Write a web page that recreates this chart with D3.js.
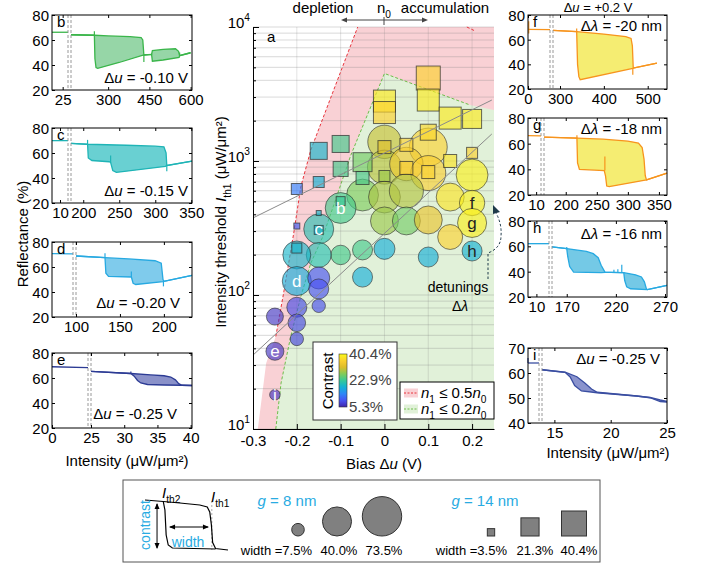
<!DOCTYPE html>
<html>
<head>
<meta charset="utf-8">
<script src="https://cdn.jsdelivr.net/npm/d3@7"></script>
<style>
  body { margin: 0; background: #fff; }
  svg { font-family: "Liberation Sans", Arial, sans-serif; }
</style>
</head>
<body>
<svg id="fig" width="715" height="572"></svg>
<script>
// ---------- panel a: bubbles (bias V, threshold uW/um2, width %, contrast %) ----------
var circleBias = [0, 0.1, 0, 0.05, 0.1, 0.2, -0.05, 0, 0.05, 0.15, 0.2, -0.1, 0, 0.05, 0.1, 0.2, 0.15, -0.15,
  0.2, 0.1, 0, -0.05, -0.1, -0.15, -0.2, -0.05, -0.2, -0.15, -0.15, -0.15, -0.2, -0.2, -0.2, -0.25, -0.25, -0.25];
var circleIth1 = [1390, 1270, 900, 950, 813, 786, 557, 538, 597, 538, 486, 446, 357, 357, 363, 345, 271, 311,
  213, 192, 221, 217, 199, 199, 199, 136, 127, 134, 111, 83, 81, 62, 47, 69, 38, 18];
var circleWidth = [52.7, 68, 54.6, 52.7, 58, 48, 48, 48, 55, 37, 30.5, 45, 37, 37, 37, 40, 29.5, 42.5,
  19, 19, 21, 19, 18, 29.5, 37, 19, 40, 23, 19, 8.5, 19, 14.6, 8.5, 13.7, 15.3, 5.3];
var circleContrast = [30.6, 36.2, 29.9, 34.4, 35.8, 39.3, 27.0, 29.2, 29.6, 38.0, 39.3, 23.6, 28.5, 26.4, 33.4, 39.3, 36.2, 21.1,
  18.6, 18.2, 18.2, 23.6, 23.6, 21.1, 19.3, 18.0, 18.0, 9.5, 9.5, 9.2, 8.8, 8.5, 8.1, 6.7, 6.7, 6.4];

var squareBias = [-0.15, -0.1, -0.2, -0.15, -0.1, -0.05, -0.05, 0, 0, 0.1, 0.1, 0.15, 0.2, 0.1, 0.05, 0, 0.15,
  0.2, 0.05, 0.1, 0, -0.1, -0.15, -0.2, -0.2, -0.15];
var squareIth1 = [1190, 1340, 618, 697, 872, 980, 747, 2800, 2300, 4160, 2850, 2090, 2060, 1640, 1320, 1270, 1000,
  1150, 887, 827, 773, 502, 409, 327, 224, 306];
var squareWidth = [18.7, 18.7, 7.8, 7.8, 14.5, 23.3, 10.9, 31.3, 31.3, 37.2, 31.3, 31.3, 23.3, 16.5, 10.9, 10.9, 10.9,
  7.8, 10.9, 10.9, 7.8, 5.2, 1.6, 2.3, 6.5, 5.2];
var squareContrast = [19.3, 23.6, 13.0, 18.6, 23.6, 26.4, 23.9, 38.6, 36.2, 36.2, 38.6, 38.6, 38.6, 36.9, 36.2, 32.0, 38.0,
  36.2, 35.5, 36.2, 28.5, 22.9, 19.3, 10.6, 19.3, 19.3];

var labelIndex = [11, 17, 26, 34, 10, 15, 18, 35];
var labelText = ["b", "c", "d", "e", "f", "g", "h", "i"];

// region boundaries [bias, threshold]
var pinkEdge = [[-0.289, 10], [-0.27, 31], [-0.248, 49]];
var redBoundary = [[-0.248, 49], [-0.23, 104], [-0.207, 290], [-0.191, 640], [-0.168, 1210], [-0.061, 10000]];
var redBoundary2 = [[0.188, 10000], [0.205, 9400]];
var greenBoundary = [[-0.248, 10], [-0.236, 22], [-0.214, 49], [-0.191, 97], [-0.168, 173], [-0.141, 271],
  [-0.118, 446], [-0.077, 1100], [0, 4500], [0.195, 2620]];
var greenEnd = [0.25, 2400];
var grayLine1 = [[-0.3, 376], [0.245, 2850]];
var grayLine2 = [[-0.3, 35.6], [0.245, 1590]];

var biasTicks = [-0.3, -0.2, -0.1, 0, 0.1, 0.2];
var contrastMin = 5.3, contrastMid = 22.9, contrastMax = 40.4;

// ---------- side panels: [intensity, reflectance %] ----------
var bPre = [[15, 66.2], [30, 66.2]];
var bUp = [[165, 64.2], [250, 63.8], [300, 63.3], [380, 62.7], [420, 62], [426, 60], [430, 48], [458, 48.5], [461, 51.5], [500, 52.5], [545, 53], [556, 51], [560, 47.5], [600, 49.8]];
var bDn = [[165, 64.2], [250, 63.8], [252, 45], [256, 38], [262, 37.3], [340, 42], [430, 48], [458, 48.5], [461, 43], [500, 44], [558, 46], [560, 47.5], [600, 49.8]];
var bSpikes = [[250, 63.8, 67], [430, 48, 42.5], [560, 47.5, 50]];

var cPre = [[6, 69.9], [14, 69.9]];
var cUp = [[183, 67.7], [206, 67], [260, 66.2], [300, 65.5], [312, 65], [315, 60], [316, 50], [351, 53.5]];
var cDn = [[183, 67.7], [206, 67], [207, 56], [212, 54], [236, 53], [238, 52.5], [241, 46], [246, 44.5], [314, 49.3], [316, 50], [351, 53.5]];
var cSpikes = [[206, 67, 70.5], [238, 52.5, 58], [316, 50, 45.5]];

var dPre = [[80, 70.7], [99.9, 70.5]];
var dUp = [[100, 68.8], [133, 67.5], [160, 66.5], [190, 65], [197, 63], [199, 50], [200, 48.5], [232, 53.3]];
var dDn = [[100, 68.8], [133, 67.5], [134, 55], [137, 52.5], [163, 52], [165, 47], [168, 46], [199, 48.3], [200, 48.5], [232, 53.3]];
var dSpikes = [[133, 67.5, 71], [163, 52, 56.5], [199.5, 48.5, 44.5]];

var ePre = [[0, 69], [24.9, 68.3]];
var eUp = [[25, 65.3], [31, 63.6], [34, 62.5], [36, 61.8], [37, 60.8], [37.7, 58.5], [38.2, 55.5], [38.7, 54.2], [40.2, 54]];
var eDn = [[25, 65.3], [31, 63.6], [31.5, 61.5], [32, 58], [32.5, 56], [33.5, 54.8], [36, 54.4], [38.7, 54.2], [40.2, 54]];
var eSpikes = [[31, 63.6, 65.2]];

var fPre = [[0, 68.4], [30, 68.2]];
var fUp = [[284, 67.6], [338, 66.5], [400, 64.5], [450, 62.5], [462, 61], [465, 55], [467, 37], [521, 41]];
var fDn = [[284, 67.6], [338, 66.5], [340, 40], [343, 30], [346, 27.5], [466, 36.8], [467, 37], [521, 41]];
var fSpikes = [[1, 65, 75], [338, 66.5, 69], [466, 37, 31.5]];

var gPre = [[5, 66.2], [13, 66]];
var gUp = [[165, 65.1], [218, 64.3], [260, 63.5], [300, 62], [317, 60.4], [323, 57], [326, 48], [328, 35], [330, 31.7], [363, 37]];
var gDn = [[165, 65.1], [218, 64.3], [219, 45], [222, 40], [262, 39], [264, 35], [266, 27], [270, 26.5], [330, 31.7], [363, 37]];
var gSpikes = [[218, 64.3, 66.5], [263, 39, 50]];

var hPre = [[8, 62.1], [13, 62.1]];
var hUp = [[155, 59.5], [170, 58.2], [190, 56], [197, 54.2], [202, 51], [205, 45], [209, 39.5], [215, 39.5], [226, 39.2], [228, 39.2], [240, 37.5], [246, 35.8], [249, 32], [251, 26.5], [252, 25.8], [272, 29.2]];
var hDn = [[155, 59.5], [170, 58.2], [171, 52], [173, 44], [177, 39.7], [205, 39.3], [209, 39.5], [215, 39.5], [226, 39.2], [228, 39.2], [229, 33], [231, 28], [235, 26.5], [252, 25.8], [272, 29.2]];
var hSpikes = [[170, 58.2, 59.5], [218, 39.5, 41.5], [222, 39.4, 42], [226, 39.2, 45.5]];

var iPre = [[12.9, 64], [13.8, 64]];
var iUp = [[13.9, 61.3], [15.95, 60.3], [17, 58.5], [17.7, 56], [18.3, 53.6], [18.8, 52.3], [22.3, 50.8], [23.5, 50.2], [24.4, 49.2], [25, 48.6]];
var iDn = [[13.9, 61.3], [15.95, 60.3], [16.4, 58.4], [16.8, 55], [17.4, 52.8], [18.8, 52.1], [22.3, 50.8], [23.5, 50.1], [24.4, 48.6], [25, 48.4]];
var iSpikes = [[12.9, 64, 66]];

// legend schematic (arbitrary units)
var schemUp = [[0, 1.0], [2.2, 0.97], [4.2, 0.94], [6.6, 0.9], [7.5, 0.86], [7.8, 0.76], [8.0, 0.5], [8.15, 0.15], [8.5, 0.03], [10, 0.0]];
var schemDn = [[2.2, 0.97], [2.4, 0.8], [2.55, 0.3], [2.8, 0.1], [3.3, 0.04], [8.5, 0.02]];
var legendCircleWidths = [7.5, 40.0, 73.5];
var legendSquareWidths = [3.5, 21.3, 40.4];

// ---------- helpers ----------
var svg = d3.select("#fig");
var blueText = "#29abe2";

function richText(t, parts, fs) {
  var cur = 0;
  parts.forEach(function (p) {
    var s = p[1] || "";
    var shift = s.indexOf("sub") >= 0 ? fs * 0.3 : (s.indexOf("sup") >= 0 ? -fs * 0.42 : 0);
    var ts = t.append("tspan").text(p[0]).attr("dy", shift - cur);
    cur = shift;
    if (s.charAt(0) === "i") ts.attr("font-style", "italic");
    if (shift !== 0) ts.attr("font-size", fs * 0.68);
  });
  return t;
}

// parula-like colormap
var parulaStops = ["#3e26a8", "#4852f4", "#2e87f7", "#12b1d6", "#37c897", "#81cc59", "#dcbd29", "#fccf30", "#f9fb15"];
var parula = d3.scaleLinear().domain(d3.range(parulaStops.length).map(function (i) { return i / (parulaStops.length - 1); }))
  .range(parulaStops).interpolate(d3.interpolateRgb).clamp(true);
function contrastColor(c) { return parula((c - contrastMin) / (contrastMax - contrastMin)); }

// ---------- panel a ----------
var mainX = d3.scaleLinear().domain([-0.3, 0.25]).range([253, 494]);
var mainY = d3.scaleLog().domain([10, 10000]).range([429, 27]);
var pathLine = d3.line().x(function (d) { return mainX(d[0]); }).y(function (d) { return mainY(d[1]); });
var rScale = d3.scaleSqrt().domain([0, 73.5]).range([0, 19.7]);
var sScale = d3.scaleSqrt().domain([0, 40.4]).range([0, 25]);

var a = svg.append("g");

// shaded regions
var pinkPoly = pinkEdge.concat(redBoundary.slice(1), [[0.25, 10000], [0.25, 10]]);
a.append("path").attr("d", pathLine(pinkPoly) + "Z").attr("fill", "#f9d1d5");
var greenPoly = greenBoundary.concat([greenEnd, [0.25, 10]]);
a.append("path").attr("d", pathLine(greenPoly) + "Z").attr("fill", "#e1f1d9");

// grid
a.append("g").selectAll("line").data(mainY.ticks()).join("line")
  .attr("x1", mainX(-0.3)).attr("x2", mainX(0.25))
  .attr("y1", function (d) { return mainY(d); }).attr("y2", function (d) { return mainY(d); })
  .attr("stroke", "#808080").attr("stroke-opacity", 0.3).attr("stroke-width", 1);
a.append("g").selectAll("line").data(biasTicks.slice(1)).join("line")
  .attr("x1", function (d) { return mainX(d); }).attr("x2", function (d) { return mainX(d); })
  .attr("y1", mainY(10)).attr("y2", mainY(10000))
  .attr("stroke", "#808080").attr("stroke-opacity", 0.22);

// boundary lines
a.append("path").attr("d", pathLine(redBoundary)).attr("fill", "none").attr("stroke", "#e8353d")
  .attr("stroke-width", 1).attr("stroke-dasharray", "3,2");
a.append("path").attr("d", pathLine(redBoundary2)).attr("fill", "none").attr("stroke", "#e8353d")
  .attr("stroke-width", 1).attr("stroke-dasharray", "3,2");
a.append("path").attr("d", pathLine(greenBoundary)).attr("fill", "none").attr("stroke", "#6dbd4a")
  .attr("stroke-width", 1).attr("stroke-dasharray", "3,2");

// circles (g = 8 nm)
var circleData = circleBias.map(function (b, i) {
  return { b: b, I: circleIth1[i], w: circleWidth[i], c: circleContrast[i] };
});
a.append("g").selectAll("circle").data(circleData).join("circle")
  .attr("cx", function (d) { return mainX(d.b); })
  .attr("cy", function (d) { return mainY(d.I); })
  .attr("r", function (d) { return rScale(d.w); })
  .attr("fill", function (d) { return contrastColor(d.c); })
  .attr("fill-opacity", 0.64)
  .attr("stroke", "#2b2b2b").attr("stroke-opacity", 0.65).attr("stroke-width", 0.9);

// squares (g = 14 nm)
var squareData = squareBias.map(function (b, i) {
  return { b: b, I: squareIth1[i], w: squareWidth[i], c: squareContrast[i] };
});
a.append("g").selectAll("rect").data(squareData).join("rect")
  .attr("x", function (d) { return mainX(d.b) - sScale(d.w) / 2; })
  .attr("y", function (d) { return mainY(d.I) - sScale(d.w) / 2; })
  .attr("width", function (d) { return sScale(d.w); })
  .attr("height", function (d) { return sScale(d.w); })
  .attr("fill", function (d) { return contrastColor(d.c); })
  .attr("fill-opacity", 0.66)
  .attr("stroke", "#2b2b2b").attr("stroke-opacity", 0.7).attr("stroke-width", 1);

// gray guide lines
[grayLine1, grayLine2].forEach(function (l) {
  a.append("path").attr("d", pathLine(l)).attr("stroke", "#8a8a8a").attr("stroke-width", 1).attr("fill", "none");
});

// bubble letters
labelIndex.forEach(function (idx, k) {
  var d = circleData[idx];
  var dark = labelText[k] === "f" || labelText[k] === "g" || labelText[k] === "h";
  a.append("text").attr("x", mainX(d.b)).attr("y", mainY(d.I) + 6)
    .attr("text-anchor", "middle").attr("font-size", 17)
    .attr("fill", dark ? "#222" : "#fff").text(labelText[k]);
});

// axes
var yMinor = a.append("g").attr("transform", "translate(253,0)")
  .call(d3.axisLeft(mainY).tickValues(mainY.ticks()).tickSize(-3).tickSizeOuter(0).tickFormat(""));
yMinor.select(".domain").remove();
var yMajor = a.append("g").attr("transform", "translate(253,0)")
  .call(d3.axisLeft(mainY).tickValues([10, 100, 1000, 10000]).tickSize(-6).tickSizeOuter(0).tickPadding(3));
yMajor.selectAll(".tick text").each(function (d) {
  var t = d3.select(this).text(null).attr("font-size", 15).attr("fill", "#000").attr("dy", "0.4em");
  richText(t, [["10"], [String(Math.round(Math.log10(d))), "sup"]], 15);
});
yMajor.select(".domain").attr("stroke", "#000");

var xAx = a.append("g").attr("transform", "translate(0,429)")
  .call(d3.axisBottom(mainX).tickValues(biasTicks).tickSize(-5).tickSizeOuter(0).tickPadding(6)
    .tickFormat(function (d) { return d === 0 ? "0" : d.toFixed(1); }));
xAx.selectAll(".tick text").attr("font-size", 15).attr("fill", "#000");
xAx.select(".domain").attr("stroke", "#000");
a.selectAll(".tick line").attr("stroke", "#000");
a.selectAll("g").attr("font-family", null);

// axis labels
richText(a.append("text").attr("x", 384).attr("y", 469).attr("text-anchor", "middle").attr("font-size", 15),
  [["Bias Δ"], ["u", "i"], [" (V)"]], 15);
richText(a.append("text").attr("transform", "translate(226,222) rotate(-90)").attr("text-anchor", "middle").attr("font-size", 15),
  [["Intensity threshold "], ["I", "i"], ["th1", "sub"], [" (μW/μm²)"]], 15);

a.append("text").attr("x", 267).attr("y", 42).attr("font-size", 15).text("a");

// top annotation
a.append("text").attr("x", 323).attr("y", 13).attr("text-anchor", "middle").attr("font-size", 15).text("depletion");
a.append("text").attr("x", 445).attr("y", 13).attr("text-anchor", "middle").attr("font-size", 15).text("accumulation");
richText(a.append("text").attr("x", 384).attr("y", 13).attr("text-anchor", "middle").attr("font-size", 15),
  [["n"], ["0", "sub"]], 15);
a.append("line").attr("x1", 345).attr("x2", 424).attr("y1", 20).attr("y2", 20).attr("stroke", "#444");
a.append("line").attr("x1", 384).attr("x2", 384).attr("y1", 17).attr("y2", 25).attr("stroke", "#444");
a.append("path").attr("d", "M341,20 L347,17.5 L347,22.5 Z").attr("fill", "#444");
a.append("path").attr("d", "M428,20 L422,17.5 L422,22.5 Z").attr("fill", "#444");

// detunings annotation
a.append("text").attr("x", 458).attr("y", 292).attr("text-anchor", "middle").attr("font-size", 14).text("detunings");
richText(a.append("text").attr("x", 460).attr("y", 311).attr("text-anchor", "middle").attr("font-size", 14),
  [["Δ"], ["λ", "i"]], 14);
a.append("path").attr("d", "M488,279 L488,253 Q501,248 501,236 Q502,224 496,213")
  .attr("fill", "none").attr("stroke", "#1f3a4a").attr("stroke-width", 1).attr("stroke-dasharray", "2.5,2");
a.append("path").attr("d", "M493,205 L500,212 L493,214 Z").attr("fill", "#1f3a4a");

// colorbar box
a.append("rect").attr("x", 313).attr("y", 342).attr("width", 84).attr("height", 78)
  .attr("fill", "#fff").attr("stroke", "#333").attr("stroke-width", 1);
var defs = svg.append("defs");
var grad = defs.append("linearGradient").attr("id", "cbar").attr("x1", 0).attr("y1", 1).attr("x2", 0).attr("y2", 0);
d3.range(21).forEach(function (i) {
  grad.append("stop").attr("offset", i / 20).attr("stop-color", parula(i / 20));
});
var cbY = d3.scaleLinear().domain([contrastMin, contrastMax]).range([407, 354]);
a.append("rect").attr("x", 339).attr("y", cbY(contrastMax)).attr("width", 8).attr("height", cbY(contrastMin) - cbY(contrastMax))
  .attr("fill", "url(#cbar)").attr("stroke", "#333").attr("stroke-width", 0.6);
[contrastMax, contrastMid, contrastMin].forEach(function (v) {
  a.append("text").attr("x", 349).attr("y", cbY(v) + 5).attr("font-size", 15).attr("fill", "#444").text(v.toFixed(1) + "%");
});
a.append("text").attr("transform", "translate(333,381) rotate(-90)").attr("text-anchor", "middle")
  .attr("font-size", 15).text("Contrast");

// n1 legend
a.append("rect").attr("x", 400).attr("y", 382).attr("width", 94).attr("height", 37)
  .attr("fill", "#fff").attr("stroke", "#000").attr("stroke-width", 1);
[["#f9d1d5", "#e8353d", "0.5"], ["#e1f1d9", "#6dbd4a", "0.2"]].forEach(function (e, k) {
  var yy = 393 + k * 16;
  a.append("rect").attr("x", 404).attr("y", yy - 4.5).attr("width", 14).attr("height", 9).attr("fill", e[0]);
  a.append("line").attr("x1", 404).attr("x2", 418).attr("y1", yy).attr("y2", yy)
    .attr("stroke", e[1]).attr("stroke-dasharray", "2,1.5");
  richText(a.append("text").attr("x", 421).attr("y", yy + 5).attr("font-size", 15),
    [["n", "i"], ["1", "sub"], [" ≤ " + e[2]], ["n", "i"], ["0", "sub"]], 15);
});

// ---------- side panels ----------
var panels = [
  { L: "b", x: 52, y: 15, w: 140, h: 75, xd: [15, 30, 165, 605], bx: 16, xt: [25, 300, 450, 600], yd: [20, 80], yt: [20, 40, 60, 80],
    pre: bPre, up: bUp, dn: bDn, sp: bSpikes, line: "#3ab54a", fill: "#96d6a7", note: ["u", "-0.10 V"], nx: 136, ny: 68 },
  { L: "c", x: 52, y: 128, w: 140, h: 75, xd: [6, 14, 183, 351], bx: 16, xt: [10, 200, 250, 300, 350], yd: [20, 80], yt: [20, 40, 60, 80],
    pre: cPre, up: cUp, dn: cDn, sp: cSpikes, line: "#1fb4b6", fill: "#69d0d2", note: ["u", "-0.15 V"], nx: 136, ny: 68 },
  { L: "d", x: 52, y: 242, w: 140, h: 75, xd: [80, 99.9, 100, 232], bx: 21, xt: [100, 150, 200], yd: [20, 80], yt: [20, 40, 60, 80],
    pre: dPre, up: dUp, dn: dDn, sp: dSpikes, line: "#27a9e1", fill: "#7fcbec", note: ["u", "-0.20 V"], nx: 128, ny: 66 },
  { L: "e", x: 52, y: 353, w: 140, h: 75, xd: [0, 24.9, 25, 40.2], bx: 36, xt: [0, 25, 30, 35, 40], yd: [20, 80], yt: [20, 40, 60, 80],
    pre: ePre, up: eUp, dn: eDn, sp: eSpikes, line: "#2c3b94", fill: "#8a91c9", note: ["u", "-0.25 V"], nx: 125, ny: 66 },
  { L: "f", x: 528, y: 15, w: 139, h: 74, xd: [0, 30, 284, 544], bx: 22, xt: [0, 300, 400, 500], yd: [20, 80], yt: [20, 40, 60, 80],
    pre: fPre, up: fUp, dn: fDn, sp: fSpikes, line: "#f7941d", fill: "#f5ed72", note: ["λ", "-20 nm"], nx: 134, ny: 16 },
  { L: "g", x: 528, y: 118, w: 139, h: 77, xd: [5, 13, 165, 363], bx: 13, xt: [10, 200, 250, 300, 350], yd: [20, 80], yt: [20, 40, 60, 80],
    pre: gPre, up: gUp, dn: gDn, sp: gSpikes, line: "#f7941d", fill: "#f5ed72", note: ["λ", "-18 nm"], nx: 134, ny: 16 },
  { L: "h", x: 528, y: 221, w: 139, h: 76, xd: [8, 13, 155, 272], bx: 21, xt: [10, 170, 220, 270], yd: [20, 80], yt: [20, 40, 60, 80],
    pre: hPre, up: hUp, dn: hDn, sp: hSpikes, line: "#27a9e1", fill: "#74c9e6", note: ["λ", "-16 nm"], nx: 134, ny: 18 },
  { L: "i", x: 528, y: 348, w: 139, h: 75, xd: [12.9, 13.8, 13.9, 25], bx: 11, xt: [15, 20, 25], yd: [40, 70], yt: [40, 50, 60, 70],
    pre: iPre, up: iUp, dn: iDn, sp: iSpikes, line: "#3a4ea1", fill: "#8a93cd", note: ["u", "-0.25 V"], nx: 132, ny: 16 }
];

panels.forEach(function (p) {
  var g = svg.append("g").attr("transform", "translate(" + p.x + "," + p.y + ")");
  var x = d3.scaleLinear().domain(p.xd).range([0, p.bx, p.bx + 3, p.w]);
  var y = d3.scaleLinear().domain(p.yd).range([p.h, 0]);
  var line = d3.line().x(function (d) { return x(d[0]); }).y(function (d) { return y(d[1]); });

  g.append("path").attr("d", line(p.up.concat(p.dn.slice().reverse())) + "Z").attr("fill", p.fill);
  [p.pre, p.up, p.dn].forEach(function (s) {
    g.append("path").attr("d", line(s)).attr("fill", "none").attr("stroke", p.line).attr("stroke-width", 1.3);
  });
  g.selectAll(".spike").data(p.sp).join("line").attr("class", "spike")
    .attr("x1", function (d) { return x(d[0]); }).attr("x2", function (d) { return x(d[0]); })
    .attr("y1", function (d) { return y(d[1]); }).attr("y2", function (d) { return y(d[2]); })
    .attr("stroke", p.line).attr("stroke-width", 1.2);

  // axis break
  [p.bx, p.bx + 3].forEach(function (bxv) {
    g.append("line").attr("x1", bxv).attr("x2", bxv).attr("y1", 0).attr("y2", p.h)
      .attr("stroke", "#8c8c8c").attr("stroke-width", 0.9).attr("stroke-dasharray", "3,2");
  });

  var xa = g.append("g").attr("transform", "translate(0," + p.h + ")")
    .call(d3.axisBottom(x).tickValues(p.xt).tickSize(-3).tickSizeOuter(0).tickPadding(4).tickFormat(d3.format("d")));
  var ya = g.append("g").call(d3.axisLeft(y).tickValues(p.yt).tickSize(-3).tickSizeOuter(0).tickPadding(3).tickFormat(d3.format("d")));
  g.append("g").call(d3.axisTop(x).tickValues(p.xt).tickSize(-3).tickSizeOuter(0).tickFormat(""));
  g.append("g").attr("transform", "translate(" + p.w + ",0)")
    .call(d3.axisRight(y).tickValues(p.yt).tickSize(-3).tickSizeOuter(0).tickFormat(""));
  g.selectAll(".domain").remove();
  g.selectAll(".tick line").attr("stroke", "#000");
  g.selectAll(".tick text").attr("font-size", 15).attr("fill", "#000");
  g.selectAll("g").attr("font-family", null);
  ya.selectAll(".tick text").attr("dy", "0.36em");

  g.append("rect").attr("width", p.w).attr("height", p.h).attr("fill", "none").attr("stroke", "#000").attr("stroke-width", 1);

  g.append("text").attr("x", 5).attr("y", 12).attr("font-size", 15).text(p.L);
  richText(g.append("text").attr("x", p.nx).attr("y", p.ny).attr("text-anchor", "end").attr("font-size", 15),
    [["Δ"], [p.note[0], "i"], [" = " + p.note[1]]], 15);
});

// panel titles / labels
richText(svg.append("text").attr("x", 598).attr("y", 12).attr("text-anchor", "middle").attr("font-size", 13),
  [["Δ"], ["u", "i"], [" = +0.2 V"]], 13);
svg.append("text").attr("transform", "translate(28,234) rotate(-90)").attr("text-anchor", "middle")
  .attr("font-size", 15).text("Reflectance (%)");
svg.append("text").attr("x", 127).attr("y", 466).attr("text-anchor", "middle").attr("font-size", 15).text("Intensity (μW/μm²)");
svg.append("text").attr("x", 608).attr("y", 458).attr("text-anchor", "middle").attr("font-size", 15).text("Intensity (μW/μm²)");

// ---------- bottom legend ----------
var lg = svg.append("g");
lg.append("rect").attr("x", 123).attr("y", 480).attr("width", 477).attr("height", 82)
  .attr("fill", "#fff").attr("stroke", "#555").attr("stroke-width", 1);

var sx = d3.scaleLinear().domain([0, 10]).range([145, 228]);
var sy = d3.scaleLinear().domain([0, 1]).range([550, 500]);
var sline = d3.line().x(function (d) { return sx(d[0]); }).y(function (d) { return sy(d[1]); });
lg.append("line").attr("x1", sx(8.05)).attr("x2", sx(8.05)).attr("y1", sy(0.98)).attr("y2", sy(0))
  .attr("stroke", "#aaa").attr("stroke-dasharray", "2,2");
[schemUp, schemDn].forEach(function (s) {
  lg.append("path").attr("d", sline(s)).attr("fill", "none").attr("stroke", "#000").attr("stroke-width", 1.2);
});
// arrows
lg.append("line").attr("x1", sx(1.45)).attr("x2", sx(1.45)).attr("y1", sy(0.92)).attr("y2", sy(0.04)).attr("stroke", "#000");
lg.append("path").attr("d", "M" + sx(1.45) + "," + (sy(0.94)) + " l-2.5,6 l5,0 Z").attr("fill", "#000");
lg.append("path").attr("d", "M" + sx(1.45) + "," + (sy(0.02)) + " l-2.5,-6 l5,0 Z").attr("fill", "#000");
lg.append("line").attr("x1", sx(3.0)).attr("x2", sx(7.6)).attr("y1", sy(0.46)).attr("y2", sy(0.46)).attr("stroke", "#000");
lg.append("path").attr("d", "M" + sx(2.9) + "," + sy(0.46) + " l6,-2.5 l0,5 Z").attr("fill", "#000");
lg.append("path").attr("d", "M" + sx(7.7) + "," + sy(0.46) + " l-6,-2.5 l0,5 Z").attr("fill", "#000");

richText(lg.append("text").attr("x", 162).attr("y", 498).attr("font-size", 15), [["I", "i"], ["th2", "sub"]], 15);
richText(lg.append("text").attr("x", 211).attr("y", 502).attr("font-size", 15), [["I", "i"], ["th1", "sub"]], 15);
lg.append("text").attr("transform", "translate(150,525) rotate(-90)").attr("text-anchor", "middle")
  .attr("font-size", 14).attr("fill", blueText).text("contrast");
lg.append("text").attr("x", 188).attr("y", 547).attr("text-anchor", "middle")
  .attr("font-size", 14).attr("fill", blueText).text("width");

richText(lg.append("text").attr("x", 287).attr("y", 506).attr("text-anchor", "middle").attr("font-size", 15).attr("fill", blueText),
  [["g", "i"], [" = 8 nm"]], 15);
richText(lg.append("text").attr("x", 485).attr("y", 506).attr("text-anchor", "middle").attr("font-size", 15).attr("fill", blueText),
  [["g", "i"], [" = 14 nm"]], 15);

var legCircleX = [298, 337, 382];
legendCircleWidths.forEach(function (w, k) {
  var r = rScale(w);
  lg.append("circle").attr("cx", legCircleX[k]).attr("cy", 536 - r).attr("r", r)
    .attr("fill", "#808080").attr("stroke", "#333").attr("stroke-width", 1);
  lg.append("text").attr("x", k === 0 ? 312 : legCircleX[k] + 2).attr("y", 555)
    .attr("text-anchor", k === 0 ? "end" : "middle").attr("font-size", 13)
    .text((k === 0 ? "width =" : "") + w.toFixed(1) + "%");
});
var legSquareX = [491, 530, 574];
legendSquareWidths.forEach(function (w, k) {
  var s = sScale(w);
  lg.append("rect").attr("x", legSquareX[k] - s / 2).attr("y", 536 - s).attr("width", s).attr("height", s)
    .attr("fill", "#808080").attr("stroke", "#333").attr("stroke-width", 1);
  lg.append("text").attr("x", k === 0 ? 507 : legSquareX[k] + 5).attr("y", 555)
    .attr("text-anchor", k === 0 ? "end" : "middle").attr("font-size", 13)
    .text((k === 0 ? "width =" : "") + w.toFixed(1) + "%");
});
</script>
</body>
</html>
